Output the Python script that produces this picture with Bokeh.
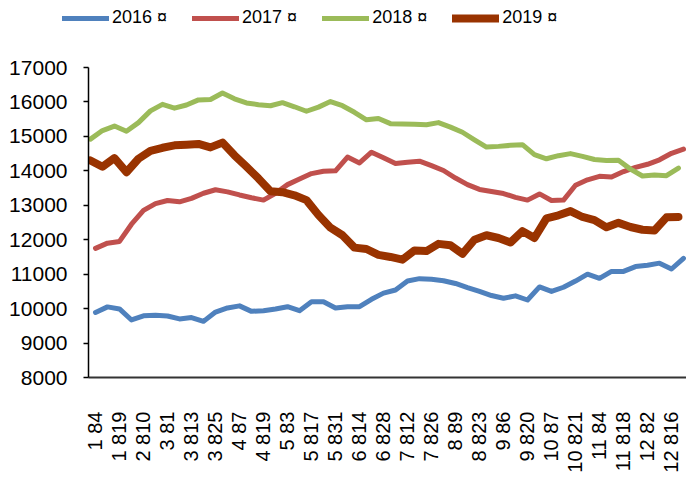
import math
from bokeh.plotting import figure
from bokeh.layouts import column
from bokeh.models import ColumnDataSource, FixedTicker, Legend, LegendItem
from bokeh.core.properties import value
from bokeh.transform import dodge
from bokeh.embed import file_html
from bokeh.resources import INLINE

# tick labels (every other category)
labels = ["1 84", "1 819", "2 810", "3 81", "3 813", "3 825", "4 87", "4 819",
          "5 83", "5 817", "5 831", "6 814", "6 828", "7 812", "7 826", "8 89",
          "8 823", "9 86", "9 820", "10 87", "10 821", "11 84", "11 818", "12 82",
          "12 816"]
y_ticks = [8000, 9000, 10000, 11000, 12000, 13000, 14000, 15000, 16000, 17000]
series_names = ["2016 ¤", "2017 ¤", "2018 ¤", "2019 ¤"]
series_cols = ["y2016", "y2017", "y2018", "y2019"]

s2016 = [9890, 10050, 9990, 9670, 9790, 9810, 9785, 9700, 9740, 9630,
         9900, 10020, 10080, 9920, 9940, 9990, 10055, 9940, 10200, 10200,
         10020, 10055, 10055, 10270, 10450, 10540, 10800, 10870, 10855, 10810,
         10730, 10610, 10500, 10380, 10300, 10370, 10250, 10630, 10500, 10620,
         10800, 11000, 10880, 11080, 11080, 11220, 11260, 11320, 11150, 11460]
s2017 = [11750, 11900, 11950, 12450, 12850, 13050, 13140, 13100, 13200, 13350,
         13450, 13390, 13300, 13220, 13150, 13350, 13600, 13760, 13920, 13990,
         14000, 14400, 14230, 14540, 14380, 14210, 14250, 14280, 14150, 14010,
         13790, 13600, 13460, 13400, 13340, 13230, 13150, 13330, 13140, 13150,
         13580, 13740, 13840, 13820, 13980, 14100, 14190, 14320, 14510, 14630]
s2018 = [14920, 15170, 15300, 15150, 15400, 15740, 15930, 15820, 15910, 16060,
         16070, 16260, 16090, 15970, 15920, 15890, 15980, 15860, 15730, 15850,
         16010, 15890, 15700, 15480, 15520, 15370, 15360, 15355, 15340, 15400,
         15270, 15120, 14900, 14690, 14710, 14740, 14760, 14470, 14350, 14440,
         14500, 14420, 14330, 14300, 14305, 14050, 13850, 13880, 13860, 14080]
s2019 = [14300, 14120, 14370, 13960, 14350, 14580, 14670, 14740, 14760, 14780,
         14680, 14820, 14450, 14120, 13780, 13410, 13380, 13290, 13150, 12720,
         12350, 12130, 11770, 11730, 11560, 11500, 11420, 11690, 11670, 11880,
         11840, 11590, 12000, 12130, 12050, 11920, 12250, 12050, 12620, 12710,
         12830, 12660, 12570, 12360, 12490, 12370, 12290, 12270, 12650, 12660]

colors = ["#4F81BD", "#C0504D", "#9BBB59", "#993300"]
widths = [5, 5, 5, 8]

x = list(range(len(s2016)))
src = ColumnDataSource(dict(x=x, y2016=s2016, y2017=s2017, y2018=s2018, y2019=s2019))

FONT = "Liberation Sans"

# ---- main chart ----
p = figure(width=686, height=441, output_backend="svg", toolbar_location=None,
           x_range=(-0.583, 49.25), y_range=(8000, 17000),
           min_border_left=88, min_border_right=0, min_border_top=27,
           min_border_bottom=104)
p.frame_align = False
p.outline_line_color = None
p.xgrid.visible = False
p.ygrid.visible = False
p.background_fill_color = "white"
p.border_fill_color = "white"

p.line("x", "y2016", source=src, line_color=colors[0], line_width=widths[0],
       line_join="round", line_cap="round")
p.line("x", "y2017", source=src, line_color=colors[1], line_width=widths[1],
       line_join="round", line_cap="round")
p.line(dodge("x", -0.42, range=p.x_range), "y2018", source=src,
       line_color=colors[2], line_width=widths[2], line_join="round", line_cap="round")
p.line(dodge("x", -0.42, range=p.x_range), "y2019", source=src,
       line_color=colors[3], line_width=widths[3], line_join="round", line_cap="round")

# y axis
p.yaxis.ticker = FixedTicker(ticks=y_ticks)
p.yaxis.minor_tick_line_color = None
p.yaxis.major_tick_in = 0
p.yaxis.major_tick_out = 5
p.yaxis.major_tick_line_width = 1.5
p.yaxis.major_tick_line_color = "black"
p.yaxis.axis_line_color = "black"
p.yaxis.axis_line_width = 1.5
p.yaxis.major_label_text_font = FONT
p.yaxis.major_label_text_font_size = "21px"
p.yaxis.major_label_text_color = "black"
p.yaxis.major_label_standoff = 16

# x axis
p.xaxis.ticker = FixedTicker(ticks=[2 * i for i in range(len(labels))])
p.xaxis.major_label_overrides = {2 * i: lab for i, lab in enumerate(labels)}
p.xaxis.major_label_orientation = math.pi / 2
p.xaxis.minor_tick_line_color = None
p.xaxis.major_tick_in = 0
p.xaxis.major_tick_out = 0
p.xaxis.axis_line_color = "#333333"
p.xaxis.axis_line_width = 2
p.xaxis.major_label_text_font = FONT
p.xaxis.major_label_text_font_size = "20px"
p.xaxis.major_label_text_color = "black"
p.xaxis.major_label_standoff = 34

# ---- legend strip: same series, drawn out of its visible range ----
lg = figure(width=686, height=40, output_backend="svg", toolbar_location=None,
            x_range=(0, 1), y_range=(0, 1), min_border=0,
            x_axis_type=None, y_axis_type=None)
lg.frame_align = False
lg.outline_line_color = None
lg.xgrid.visible = False
lg.ygrid.visible = False
items = []
for name, col, c, w in zip(series_names, series_cols, colors, widths):
    r = lg.line("x", col, source=src, line_color=c, line_width=w, line_cap="round")
    items.append(LegendItem(label=value(name), renderers=[r]))

legend = Legend(items=items, orientation="horizontal", location=(62, 12))
legend.glyph_width = 47
legend.glyph_height = 20
legend.label_height = 20
legend.label_standoff = 3
legend.spacing = 25
legend.padding = 0
legend.margin = 0
legend.border_line_alpha = 0
legend.background_fill_alpha = 0
legend.label_text_font = FONT
legend.label_text_font_size = "18px"
legend.label_text_color = "black"
lg.add_layout(legend)

layout = column(lg, p, spacing=0)
open("out.html", "w").write(file_html(layout, INLINE))
